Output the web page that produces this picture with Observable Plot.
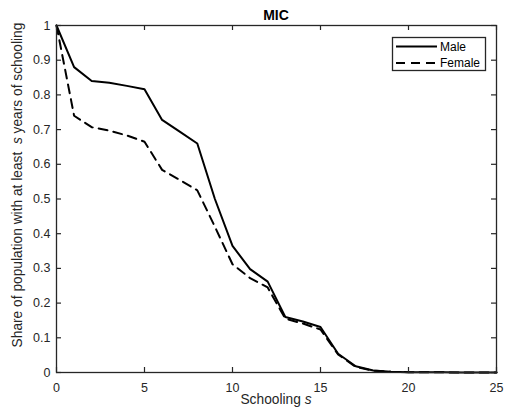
<!DOCTYPE html>
<html>
<head>
<meta charset="utf-8">
<script src="https://cdn.jsdelivr.net/npm/d3@7"></script>
<script src="https://cdn.jsdelivr.net/npm/@observablehq/plot@0.6"></script>
<style>
  html, body { margin: 0; padding: 0; background: #fff; }
  svg text { font-family: "Liberation Sans", Arial, Helvetica, sans-serif; }
</style>
</head>
<body>
<div id="chart"></div>
<script>
const title = "MIC";
const schooling = [0,1,2,3,4,5,6,7,8,9,10,11,12,13,14,15,16,17,18,19,20,21,22,23,24,25];
const male   = [1.0,0.88,0.840,0.835,0.826,0.816,0.728,0.694,0.660,0.500,0.365,0.298,0.262,0.160,0.147,0.131,0.054,0.018,0.006,0.002,0.001,0.0006,0.0004,0.0002,0.0001,0.0];
const female = [1.0,0.74,0.707,0.697,0.683,0.665,0.584,0.555,0.525,0.420,0.312,0.272,0.245,0.155,0.141,0.124,0.052,0.016,0.005,0.002,0.001,0.0006,0.0004,0.0002,0.0001,0.0];
const xTicks = [0,5,10,15,20,25];
const yTicks = [0,0.1,0.2,0.3,0.4,0.5,0.6,0.7,0.8,0.9,1];
const seriesNames = ["Male", "Female"];
const xLabel = "Schooling ";
const xLabelItalic = "s";
const yLabelA = "Share of population with at least  ";
const yLabelItalic = "s";
const yLabelB = " years of schooling";

const rows = schooling.map((s, i) => ({s, male: male[i], female: female[i]}));
const ink = "#262626";
const fmtY = d => String(+d.toFixed(1));

const W = 509, H = 417, mL = 56, mR = 13, mT = 25, mB = 45;
const plotW = W - mL - mR, plotH = H - mT - mB, tick = 5;

const chart = Plot.plot({
  width: W,
  height: H,
  marginLeft: mL,
  marginRight: mR,
  marginTop: mT,
  marginBottom: mB,
  style: {fontFamily: "Liberation Sans, Arial, sans-serif", fontSize: "12.5px", color: ink, background: "white"},
  x: {domain: [0, 25]},
  y: {domain: [0, 1]},
  marks: [
    Plot.line(rows, {x: "s", y: "male", stroke: "black", strokeWidth: 2}),
    Plot.line(rows, {x: "s", y: "female", stroke: "black", strokeWidth: 2, strokeDasharray: "9,6"}),
    // inward ticks on all four sides
    Plot.ruleX(xTicks, {x: d => d, insetTop: plotH - tick, stroke: ink, strokeWidth: 1.2}),
    Plot.ruleX(xTicks, {x: d => d, insetBottom: plotH - tick, stroke: ink, strokeWidth: 1.2}),
    Plot.ruleY(yTicks, {y: d => d, insetRight: plotW - tick, stroke: ink, strokeWidth: 1.2}),
    Plot.ruleY(yTicks, {y: d => d, insetLeft: plotW - tick, stroke: ink, strokeWidth: 1.2}),
    Plot.frame({stroke: ink, strokeWidth: 1.3}),
    Plot.axisX(xTicks, {anchor: "bottom", tickSize: 0, tickPadding: 11, label: null, fill: ink}),
    Plot.axisY(yTicks, {anchor: "left", tickSize: 0, tickPadding: 6, tickFormat: fmtY, label: null, fill: ink})
  ]
});

document.getElementById("chart").appendChild(chart);

const svg = d3.select(chart);
const cx = (mL + W - mR) / 2;

svg.append("text")
  .attr("x", cx).attr("y", 20)
  .attr("text-anchor", "middle")
  .attr("font-weight", "bold")
  .attr("font-size", "14px")
  .attr("fill", "black")
  .text(title);

const xl = svg.append("text")
  .attr("x", cx).attr("y", 404)
  .attr("text-anchor", "middle")
  .attr("font-size", "13.75px")
  .attr("fill", ink);
xl.append("tspan").text(xLabel);
xl.append("tspan").attr("font-style", "italic").text(xLabelItalic);

const yl = svg.append("text")
  .attr("transform", "translate(22,185) rotate(-90)")
  .attr("text-anchor", "middle")
  .attr("font-size", "13.75px")
  .attr("fill", ink)
  .attr("xml:space", "preserve")
  .style("white-space", "pre");
yl.append("tspan").text(yLabelA);
yl.append("tspan").attr("font-style", "italic").text(yLabelItalic);
yl.append("tspan").text(yLabelB);

// Legend
const lg = svg.append("g");
lg.append("rect")
  .attr("x", 392.5).attr("y", 37.5).attr("width", 93).attr("height", 33)
  .attr("fill", "white").attr("stroke", ink).attr("stroke-width", 1.3);
const dashes = [null, "9,6"];
seriesNames.forEach((name, i) => {
  const y = 46.5 + i * 16.5;
  lg.append("line")
    .attr("x1", 396).attr("x2", 437).attr("y1", y).attr("y2", y)
    .attr("stroke", "black").attr("stroke-width", 2)
    .attr("stroke-dasharray", dashes[i]);
  lg.append("text")
    .attr("x", 440).attr("y", y + 4.3)
    .attr("text-anchor", "start")
    .attr("font-size", "12px")
    .attr("fill", "black")
    .text(name);
});
</script>
</body>
</html>
